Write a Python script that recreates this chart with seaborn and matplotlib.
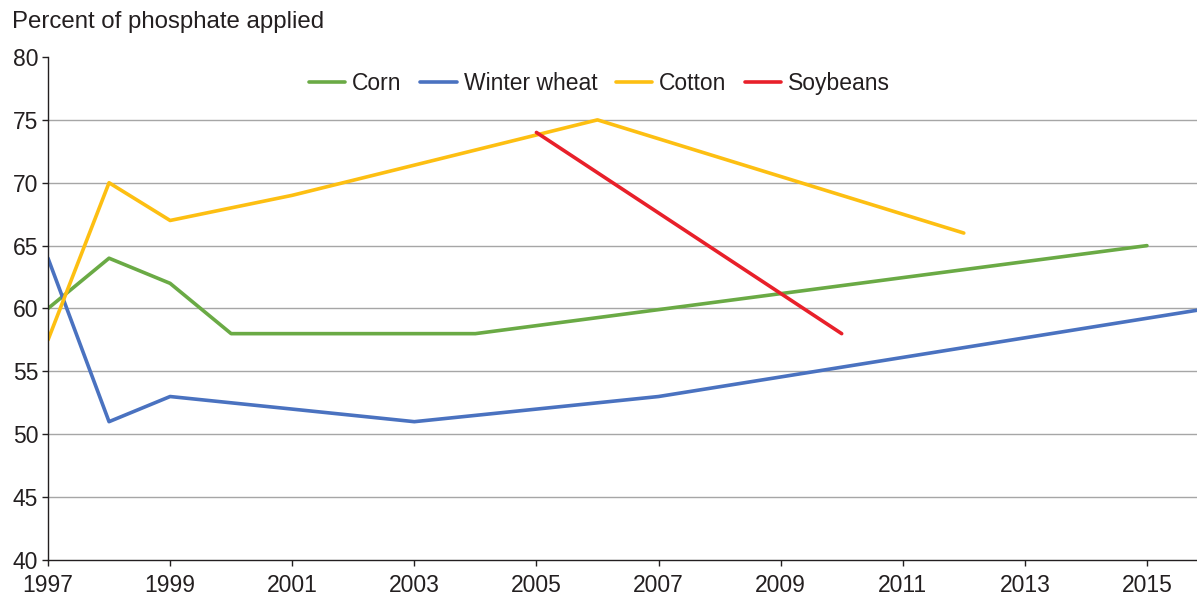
import matplotlib
matplotlib.use("Agg")
import matplotlib.pyplot as plt
import seaborn as sns
import pandas as pd

sns.set_theme(style="white")
plt.rcParams["font.family"] = ["Liberation Sans", "DejaVu Sans"]

# data
corn_years = [1997, 1998, 1999, 2000, 2001, 2003, 2004, 2015]
corn_vals = [60, 64, 62, 58, 58, 58, 58, 65]
wheat_years = [1997, 1998, 1999, 2003, 2007, 2016]
wheat_vals = [64, 51, 53, 51, 53, 60]
cotton_years = [1997, 1998, 1999, 2001, 2006, 2012]
cotton_vals = [57.5, 70, 67, 69, 75, 66]
soy_years = [2005, 2010]
soy_vals = [74, 58]

crops = ["Corn", "Winter wheat", "Cotton", "Soybeans"]
colors = ["#6aaa45", "#4a72c0", "#fdbf12", "#e8202a"]

frames = []
for name, yrs, vals in zip(crops, [corn_years, wheat_years, cotton_years, soy_years],
                           [corn_vals, wheat_vals, cotton_vals, soy_vals]):
    frames.append(pd.DataFrame({"year": yrs, "pct": vals, "crop": name}))
df = pd.concat(frames, ignore_index=True)

fig = plt.figure(figsize=(11.97, 5.96), dpi=100)
ax = fig.add_axes([48 / 1197, 1 - 560 / 596, 1 - 48 / 1197, (560 - 57) / 596])

sns.lineplot(data=df, x="year", y="pct", hue="crop", hue_order=crops,
             palette=colors, linewidth=2.6, ax=ax, sort=False, estimator=None)

ax.set_xlim(1997, 2015.82)
ax.set_ylim(40, 80)
ax.set_xticks(range(1997, 2016, 2))
ax.set_yticks(range(40, 81, 5))
for y in range(45, 80, 5):
    ax.axhline(y, color="#a6a6a6", linewidth=1, zorder=0)
ax.set_xlabel("")
ax.set_ylabel("")
for s in ["top", "right"]:
    ax.spines[s].set_visible(False)
for s in ["left", "bottom"]:
    ax.spines[s].set_color("#231f20")
    ax.spines[s].set_linewidth(1)
ax.tick_params(axis="both", labelsize=16.5, colors="#231f20", length=4, width=1,
               direction="out")
ax.tick_params(axis="x", bottom=True, pad=6)
ax.tick_params(axis="y", left=True, pad=3)

ax.legend(loc="center", bbox_to_anchor=(0.48, 0.948), ncol=4, frameon=False,
          fontsize=16.5, handlelength=1.6, handletextpad=0.3, columnspacing=0.8,
          labelcolor="#231f20")

fig.text(12 / 1197, 1 - 22 / 596, "Percent of phosphate applied", fontsize=17.3,
         color="#231f20", va="center", ha="left")

fig.savefig("out.png", dpi=100, facecolor="white")
